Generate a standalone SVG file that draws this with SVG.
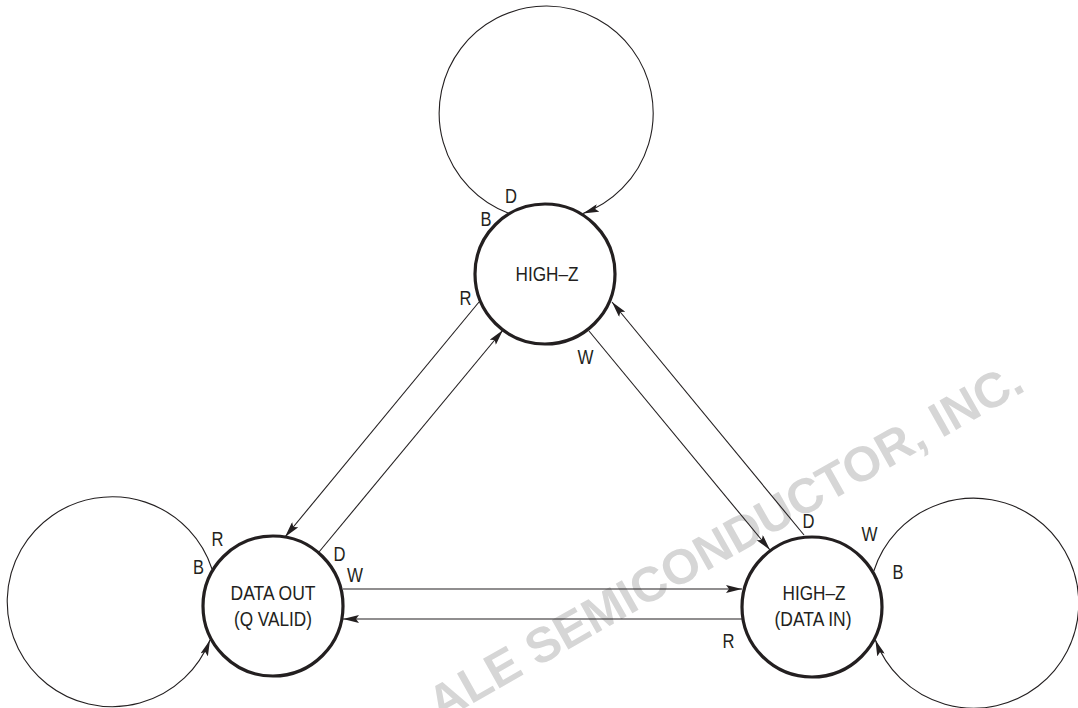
<svg xmlns="http://www.w3.org/2000/svg" width="1078" height="708" viewBox="0 0 1078 708">
<style>
.bg{fill:#ffffff}
.node{fill:#ffffff;stroke:#231f20;stroke-width:3.2}
.conn{fill:none;stroke:#231f20;stroke-width:1.1}
.t{font-family:"Liberation Sans",Arial,sans-serif;font-size:20px;fill:#231f20;text-anchor:middle}
.wm{font-family:"Liberation Sans",Arial,sans-serif;font-weight:bold;font-size:49px;fill:#d6d6d6}
</style>
<defs>
<marker id="ah" viewBox="0 0 16 8" refX="16" refY="4" markerWidth="16" markerHeight="8" markerUnits="userSpaceOnUse" orient="auto">
<path d="M0,0 L16,4 L0,8 L3,4 Z" fill="#231f20"/>
</marker>
</defs>
<rect class="bg" x="0" y="0" width="1078" height="708"/>
<g id="watermark">
<text class="wm" transform="translate(440,722) rotate(-29.5)">ALE SEMICONDUCTOR, INC.</text>
</g>
<g id="connectors">
<path class="conn" d="M508,213 A107,107 0 1 1 583,213.5" marker-end="url(#ah)"/>
<path class="conn" d="M212,569 A105,105 0 1 0 210,640" marker-end="url(#ah)"/>
<path class="conn" d="M873.8,571 A105,105 0 1 1 875.4,640" marker-end="url(#ah)"/>
<line class="conn" x1="479" y1="302" x2="285" y2="537" marker-end="url(#ah)"/>
<line class="conn" x1="319" y1="552" x2="503" y2="330" marker-end="url(#ah)"/>
<line class="conn" x1="589" y1="331" x2="770" y2="550" marker-end="url(#ah)"/>
<line class="conn" x1="804" y1="535" x2="612" y2="302" marker-end="url(#ah)"/>
<line class="conn" x1="343" y1="589" x2="742" y2="589" marker-end="url(#ah)"/>
<line class="conn" x1="742" y1="619" x2="343" y2="619" marker-end="url(#ah)"/>
</g>
<g id="node-highz-top">
<circle class="node" cx="545" cy="274" r="70"/>
<text class="t" x="547" y="281" textLength="63" lengthAdjust="spacingAndGlyphs">HIGH–Z</text>
</g>
<g id="node-dataout">
<circle class="node" cx="273" cy="606" r="70"/>
<text class="t" x="273" y="600" textLength="85" lengthAdjust="spacingAndGlyphs">DATA OUT</text>
<text class="t" x="273" y="626" textLength="78" lengthAdjust="spacingAndGlyphs">(Q VALID)</text>
</g>
<g id="node-highz-datain">
<circle class="node" cx="812" cy="607" r="70"/>
<text class="t" x="814" y="600" textLength="63" lengthAdjust="spacingAndGlyphs">HIGH–Z</text>
<text class="t" x="813" y="626" textLength="77" lengthAdjust="spacingAndGlyphs">(DATA IN)</text>
</g>
<g id="labels">
<text class="t" x="511" y="203" textLength="12" lengthAdjust="spacingAndGlyphs">D</text>
<text class="t" x="486" y="226" textLength="11" lengthAdjust="spacingAndGlyphs">B</text>
<text class="t" x="465.5" y="305" textLength="12" lengthAdjust="spacingAndGlyphs">R</text>
<text class="t" x="585.5" y="364" textLength="16" lengthAdjust="spacingAndGlyphs">W</text>
<text class="t" x="217.5" y="546" textLength="12" lengthAdjust="spacingAndGlyphs">R</text>
<text class="t" x="198.5" y="574" textLength="11" lengthAdjust="spacingAndGlyphs">B</text>
<text class="t" x="339.5" y="561" textLength="12" lengthAdjust="spacingAndGlyphs">D</text>
<text class="t" x="355" y="582" textLength="16" lengthAdjust="spacingAndGlyphs">W</text>
<text class="t" x="808.5" y="528" textLength="12" lengthAdjust="spacingAndGlyphs">D</text>
<text class="t" x="869.5" y="541" textLength="16" lengthAdjust="spacingAndGlyphs">W</text>
<text class="t" x="898" y="579" textLength="11" lengthAdjust="spacingAndGlyphs">B</text>
<text class="t" x="728.5" y="648" textLength="12" lengthAdjust="spacingAndGlyphs">R</text>
</g>
</svg>
